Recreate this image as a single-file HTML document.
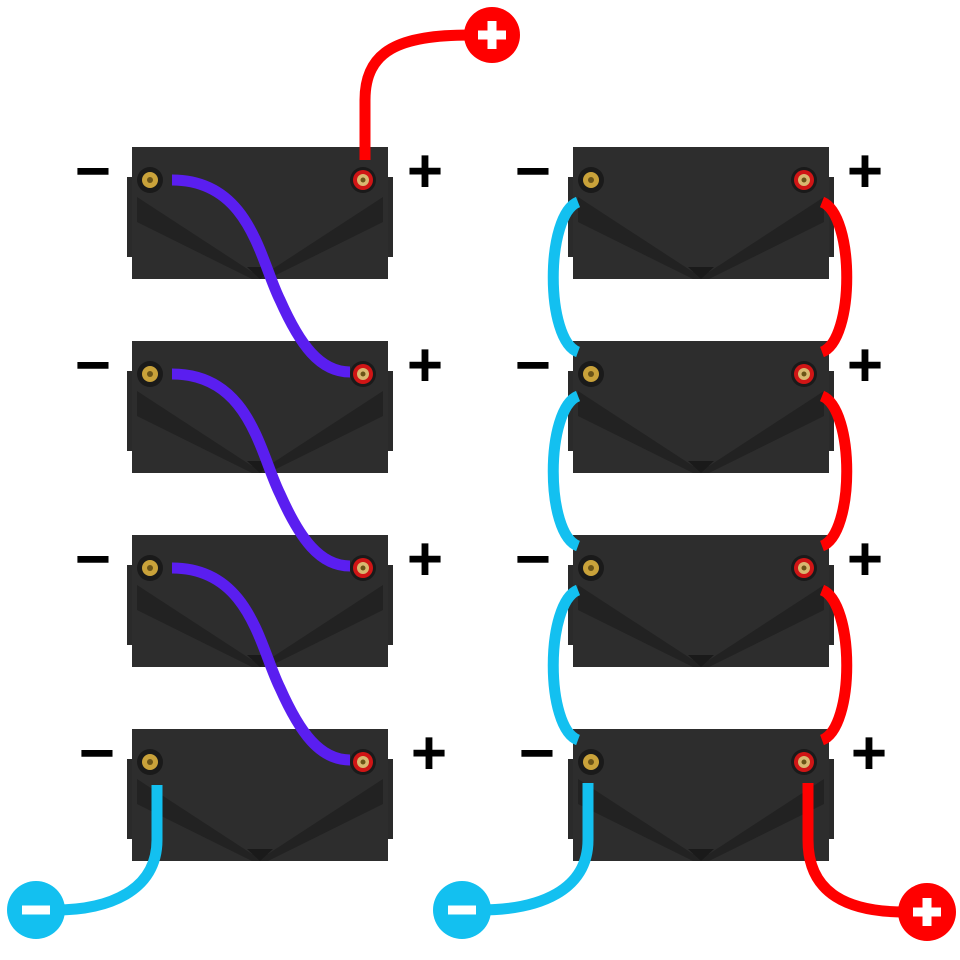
<!DOCTYPE html>
<html><head><meta charset="utf-8"><style>body{margin:0;background:#fff}svg{display:block}</style></head><body>
<svg width="960" height="960" viewBox="0 0 960 960" xmlns="http://www.w3.org/2000/svg">
<defs>
<g id="bat">
<rect x="-5" y="30" width="266" height="80" fill="#2a2a2a"/>
<rect x="0" y="0" width="256" height="132" fill="#2d2d2d"/>
<path d="M5 50 L120 125 L136 125 L251 50 L251 75 L136 132 L120 132 L5 75Z" fill="#222"/>
<path d="M128 132 L115 120 L141 120Z" fill="#1a1a1a"/>
<circle cx="18" cy="33" r="13" fill="#1a1a1a"/><circle cx="18" cy="33" r="8" fill="#c9a23a"/><circle cx="18" cy="33" r="3" fill="#6b5418"/>
<circle cx="231" cy="33" r="13" fill="#1a1a1a"/><circle cx="231" cy="33" r="10" fill="#d01515"/><circle cx="231" cy="33" r="6" fill="#d8b870"/><circle cx="231" cy="33" r="2.5" fill="#6b5418"/>
</g>
</defs>
<g font-family="Liberation Sans, sans-serif" font-weight="bold" font-size="62" fill="#000" text-anchor="middle">
<text x="93" y="192">−</text><text x="425" y="192">+</text>
<text x="93" y="386">−</text><text x="425" y="386">+</text>
<text x="93" y="580">−</text><text x="425" y="580">+</text>
<text x="97" y="774">−</text><text x="429" y="774">+</text>
<text x="533" y="192">−</text><text x="865" y="192">+</text>
<text x="533" y="386">−</text><text x="865" y="386">+</text>
<text x="533" y="580">−</text><text x="865" y="580">+</text>
<text x="537" y="774">−</text><text x="869" y="774">+</text>
</g>
<use href="#bat" x="132" y="147"/><use href="#bat" x="132" y="341"/><use href="#bat" x="132" y="535"/><use href="#bat" x="132" y="729"/>
<use href="#bat" x="573" y="147"/><use href="#bat" x="573" y="341"/><use href="#bat" x="573" y="535"/><use href="#bat" x="573" y="729"/>
<g fill="none" stroke-width="11">
<path d="M172 180 C250 180 260 260 280 300 C300 345 320 372 350 372" stroke="#5a1ef0"/>
<path d="M172 374 C250 374 260 454 280 494 C300 539 320 566 350 566" stroke="#5a1ef0"/>
<path d="M172 568 C250 568 260 648 280 688 C300 733 320 760 350 760" stroke="#5a1ef0"/>
<path d="M365 160 L365 100 C365 50 400 35 470 35" stroke="#f00" stroke-linecap="butt"/>
<path d="M157 785 L157 840 C157 890 110 910 55 910" stroke="#13c0f0"/>
<path d="M588 783 L588 840 C588 890 540 910 480 910" stroke="#13c0f0"/>
<path d="M808 783 L808 840 C808 895 850 912 905 912" stroke="#f00"/>
<path d="M578 202 C545 215 545 340 578 352 M578 396 C545 409 545 534 578 546 M578 590 C545 603 545 728 578 740" stroke="#13c0f0"/>
<path d="M822 202 C855 215 855 340 822 352 M822 396 C855 409 855 534 822 546 M822 590 C855 603 855 728 822 740" stroke="#f00"/>
</g>
<circle cx="492" cy="35" r="28" fill="#f00"/><path d="M492 21V49M478 35H506" stroke="#fff" stroke-width="9"/>
<circle cx="927" cy="912" r="29" fill="#f00"/><path d="M927 898V926M913 912H941" stroke="#fff" stroke-width="9"/>
<circle cx="36" cy="910" r="29" fill="#13c0f0"/><path d="M22 910H50" stroke="#fff" stroke-width="9"/>
<circle cx="462" cy="910" r="29" fill="#13c0f0"/><path d="M448 910H476" stroke="#fff" stroke-width="9"/>
</svg>
</body></html>
